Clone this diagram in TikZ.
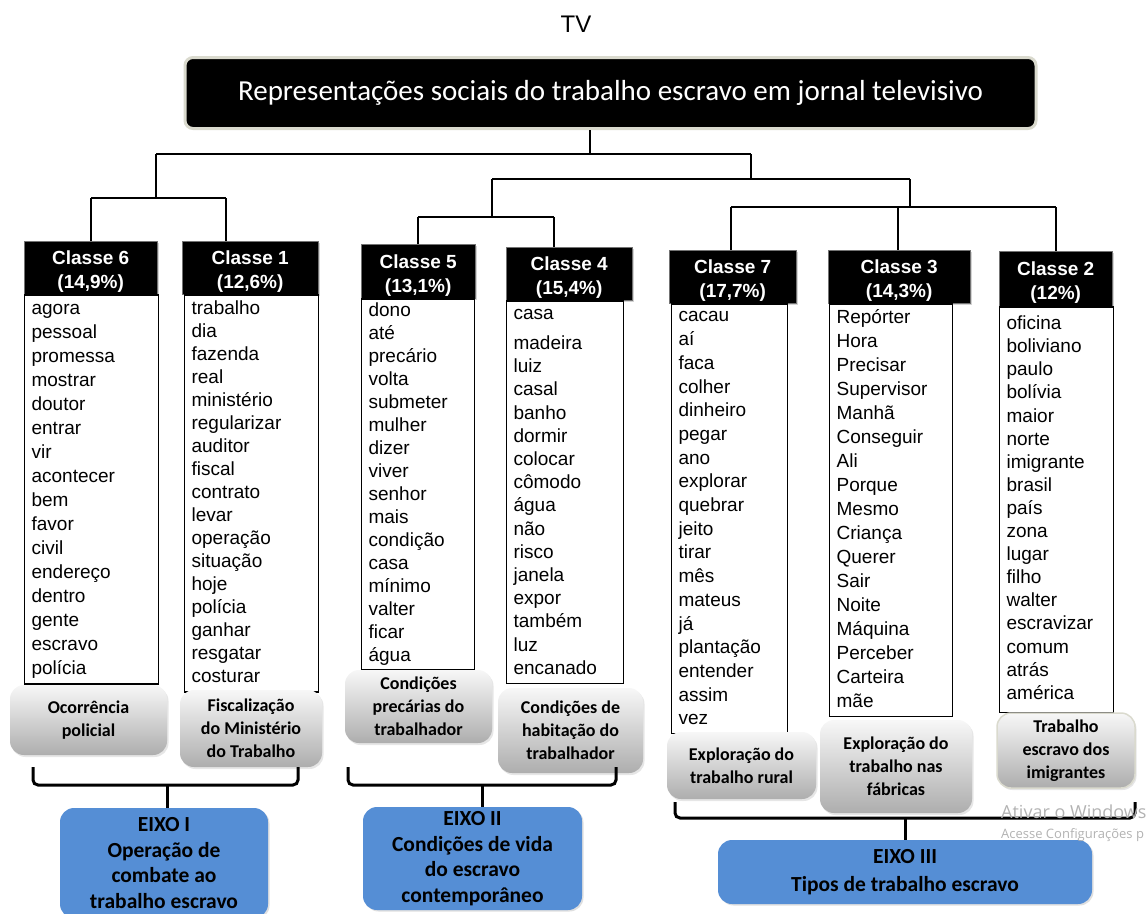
\documentclass[tikz,border=0pt]{standalone}
\usepackage{fontspec}
\setmainfont{Liberation Sans}
\newfontfamily\calibri{Carlito}
\newfontfamily\winfont{Open Sans}
\usepackage{tikz}
\usetikzlibrary{positioning, shadows}
\definecolor{eixoblue}{RGB}{85,142,213}
\definecolor{titleedge}{RGB}{218,218,206}
\newcommand{\hdrstrut}{\rule{0pt}{22pt}}
\tikzstyle{header} = [rectangle, fill=black, draw=black!55, text=white, anchor=north west, align=center, inner ysep=0pt, font=\bfseries\fontsize{19}{24}\selectfont, drop shadow={opacity=0.35, shadow xshift=1.5pt, shadow yshift=-1.5pt}]
\tikzstyle{wordlist} = [rectangle, draw=black, line width=1.2pt, fill=white, align=left, inner xsep=7pt, execute at begin node=\strut, execute at end node=\strut]
\tikzstyle{theme} = [rectangle, rounded corners=14pt, top color=black!3, bottom color=black!32, align=center, font=\calibri\bfseries\fontsize{18}{23}\selectfont, drop shadow={opacity=0.2, shadow xshift=1.5pt, shadow yshift=-2pt}]
\tikzstyle{eixo} = [rectangle, rounded corners=14pt, fill=eixoblue, align=center, font=\calibri\bfseries\fontsize{21.5}{25.5}\selectfont, drop shadow={opacity=0.25, shadow xshift=1.5pt, shadow yshift=-1.5pt}]
\tikzstyle{brace} = [line width=3pt, rounded corners=5pt]
\tikzstyle{branch} = [line width=1.2pt]

\begin{document}
\begin{tikzpicture}[x=1pt, y=-1pt]
      \useasboundingbox (0,0) rectangle (1148,913);

      % Title
      \node (tv) [font=\fontsize{24}{28}\selectfont] at (576,24) {TV};
      \node (title) [rectangle, rounded corners=8pt, fill=black, draw=titleedge, line width=3pt, minimum width=851, minimum height=71, text=white, font=\calibri\fontsize{29}{33}\selectfont] at (610.5,93) {Representações sociais do trabalho escravo em jornal televisivo};

      % Classes
      \node (h6) [header, minimum width=133, minimum height=53] at (24,241) {\hdrstrut Classe 6\\(14,9\%)};
      \node (h1) [header, minimum width=136, minimum height=53] at (182,241) {\hdrstrut Classe 1\\(12,6\%)};
      \node (h5) [header, minimum width=114, minimum height=54] at (361,244) {\hdrstrut Classe 5\\(13,1\%)};
      \node (h4) [header, minimum width=126, minimum height=53] at (506,247) {\hdrstrut Classe 4\\(15,4\%)};
      \node (h7) [header, minimum width=127, minimum height=53] at (669,250) {\hdrstrut Classe 7\\(17,7\%)};
      \node (h3) [header, minimum width=142, minimum height=53] at (828,250) {\hdrstrut Classe 3\\(14,3\%)};
      \node (h2) [header, minimum width=113, minimum height=55] at (999,251) {\hdrstrut Classe 2\\(12\%)};

      % Word lists
      \node (l6) [wordlist, below=0pt of h6.south west, anchor=north west, text width=120, inner ysep=2.5pt, font=\fontsize{19}{24}\selectfont] {agora\\pessoal\\promessa\\mostrar\\doutor\\entrar\\vir\\acontecer\\bem\\favor\\civil\\endereço\\dentro\\gente\\escravo\\polícia};
      \node (l1) [wordlist, below=0pt of h1.south west, anchor=north west, xshift=2pt, text width=120, inner ysep=3pt, font=\fontsize{19}{23}\selectfont] {trabalho\\dia\\fazenda\\real\\ministério\\regularizar\\auditor\\fiscal\\contrato\\levar\\operação\\situação\\hoje\\polícia\\ganhar\\resgatar\\costurar};
      \node (l5) [wordlist, below=0pt of h5.south west, anchor=north west, text width=99, inner ysep=1.5pt, font=\fontsize{19}{23}\selectfont] {dono\\até\\precário\\volta\\submeter\\mulher\\dizer\\viver\\senhor\\mais\\condição\\casa\\mínimo\\valter\\ficar\\água};
      \node (l4) [wordlist, below=0pt of h4.south west, anchor=north west, text width=103, inner ysep=2pt, font=\fontsize{19}{23.2}\selectfont] {casa\\[7pt]madeira\\luiz\\casal\\banho\\dormir\\colocar\\cômodo\\água\\não\\risco\\janela\\expor\\também\\luz\\encanado};
      \node (l7) [wordlist, below=0pt of h7.south west, anchor=north west, xshift=2pt, text width=102, inner ysep=1.4pt, font=\fontsize{19}{23.7}\selectfont] {cacau\\aí\\faca\\colher\\dinheiro\\pegar\\ano\\explorar\\quebrar\\jeito\\tirar\\mês\\mateus\\já\\plantação\\entender\\assim\\vez};
      \node (l3) [wordlist, below=0pt of h3.south west, anchor=north west, xshift=1pt, text width=109, inner ysep=2.2pt, font=\fontsize{19}{24}\selectfont] {Repórter\\Hora\\Precisar\\Supervisor\\Manhã\\Conseguir\\Ali\\Porque\\Mesmo\\Criança\\Querer\\Sair\\Noite\\Máquina\\Perceber\\Carteira\\mãe};
      \node (l2) [wordlist, below=0pt of h2.south west, anchor=north west, text width=100, inner ysep=6.5pt, font=\fontsize{19}{23.1}\selectfont] {oficina\\boliviano\\paulo\\bolívia\\maior\\norte\\imigrante\\brasil\\país\\zona\\lugar\\filho\\walter\\escravizar\\comum\\atrás\\américa};

      % Themes
      \node (g6) [theme, minimum width=157, minimum height=70] at (88.5,720) {Ocorrência\\policial};
      \node (g1) [theme, minimum width=142, minimum height=77] at (251,728.5) {Fiscalização\\do Ministério\\do Trabalho};
      \node (g5) [theme, minimum width=147, minimum height=73] at (418.5,706.5) {Condições\\precárias do\\trabalhador};
      \node (g4) [theme, minimum width=145, minimum height=85] at (570.5,730.5) {Condições de\\habitação do\\trabalhador};
      \node (g7) [theme, minimum width=149, minimum height=67] at (741.5,765.5) {Exploração do\\trabalho rural};
      \node (g3) [theme, minimum width=152, minimum height=93] at (896,766.5) {Exploração do\\trabalho nas\\fábricas};
      \node (g2) [theme, draw=titleedge, line width=1.5pt, minimum width=138, minimum height=75] at (1066,750.5) {Trabalho\\escravo dos\\imigrantes};

      % Axes
      \node (e1) [eixo, minimum width=208, minimum height=110] at (164,863) {EIXO I\\Operação de\\combate ao\\trabalho escravo};
      \node (e2) [eixo, minimum width=219, minimum height=103] at (472.5,858.5) {EIXO II\\Condições de vida\\do escravo\\contemporâneo};
      \node (e3) [eixo, minimum width=374, minimum height=64, font=\calibri\bfseries\fontsize{21.5}{28}\selectfont] at (905,872) {EIXO III\\Tipos de trabalho escravo};

      % Tree
      \coordinate (root) at (590,154);
      \coordinate (tA) at (156,154);
      \coordinate (tB) at (751,154);
      \coordinate (lA) at (91,198);
      \coordinate (lB) at (226,198);
      \coordinate (rA) at (492,179);
      \coordinate (rB) at (910,179);
      \coordinate (mA) at (418,217);
      \coordinate (mB) at (554,217);
      \coordinate (sA) at (731,207);
      \coordinate (sB) at (898,207);
      \coordinate (sC) at (1056,207);

      \draw [branch] (root |- title.south) -- (root);
      \draw [branch] (tA) -- (tB);
      \draw [branch] (tA) -- (tA |- lA);
      \draw [branch] (lA) -- (lB);
      \draw [branch] (lA) -- (lA |- h6.north);
      \draw [branch] (lB) -- (lB |- h1.north);
      \draw [branch] (tB) -- (tB |- rA);
      \draw [branch] (rA) -- (rB);
      \draw [branch] (rA) -- (rA |- mA);
      \draw [branch] (mA) -- (mB);
      \draw [branch] (mA) -- (mA |- h5.north);
      \draw [branch] (mB) -- (mB |- h4.north);
      \draw [branch] (rB) -- (rB |- sA);
      \draw [branch] (sA) -- (sC);
      \draw [branch] (sA) -- (sA |- h7.north);
      \draw [branch] (sB) -- (sB |- h3.north);
      \draw [branch] (sC) -- (sC |- h2.north);

      % Braces
      \coordinate (b1l) at (33,767);
      \coordinate (b1m) at (167,785);
      \coordinate (b1r) at (298,767);
      \coordinate (b2l) at (348,767);
      \coordinate (b2m) at (482,785);
      \coordinate (b2r) at (616,767);
      \coordinate (b3l) at (675,802);
      \coordinate (b3m) at (905,818);
      \coordinate (b3r) at (1135,802);

      \draw [brace] (b1l) |- (b1m) -| (b1r);
      \draw [brace] (b1m) -- (b1m |- e1.north);
      \draw [brace] (b2l) |- (b2m) -| (b2r);
      \draw [brace] (b2m) -- (b2m |- e2.north);
      \draw [brace] (b3l) |- (b3m) -| (b3r);
      \draw [brace] (b3m) -- (b3m |- e3.north);

      % Watermark
      \node (win) [anchor=west, inner sep=0pt, text=black!30, font=\winfont\fontsize{18}{20}\selectfont] at (1001,812) {Ativar o Windows};
      \node (winsub) [anchor=west, inner sep=0pt, text=black!30, font=\winfont\fontsize{13}{15}\selectfont] at (1001,835) {Acesse Configurações p};

    \end{tikzpicture}
\end{document}
